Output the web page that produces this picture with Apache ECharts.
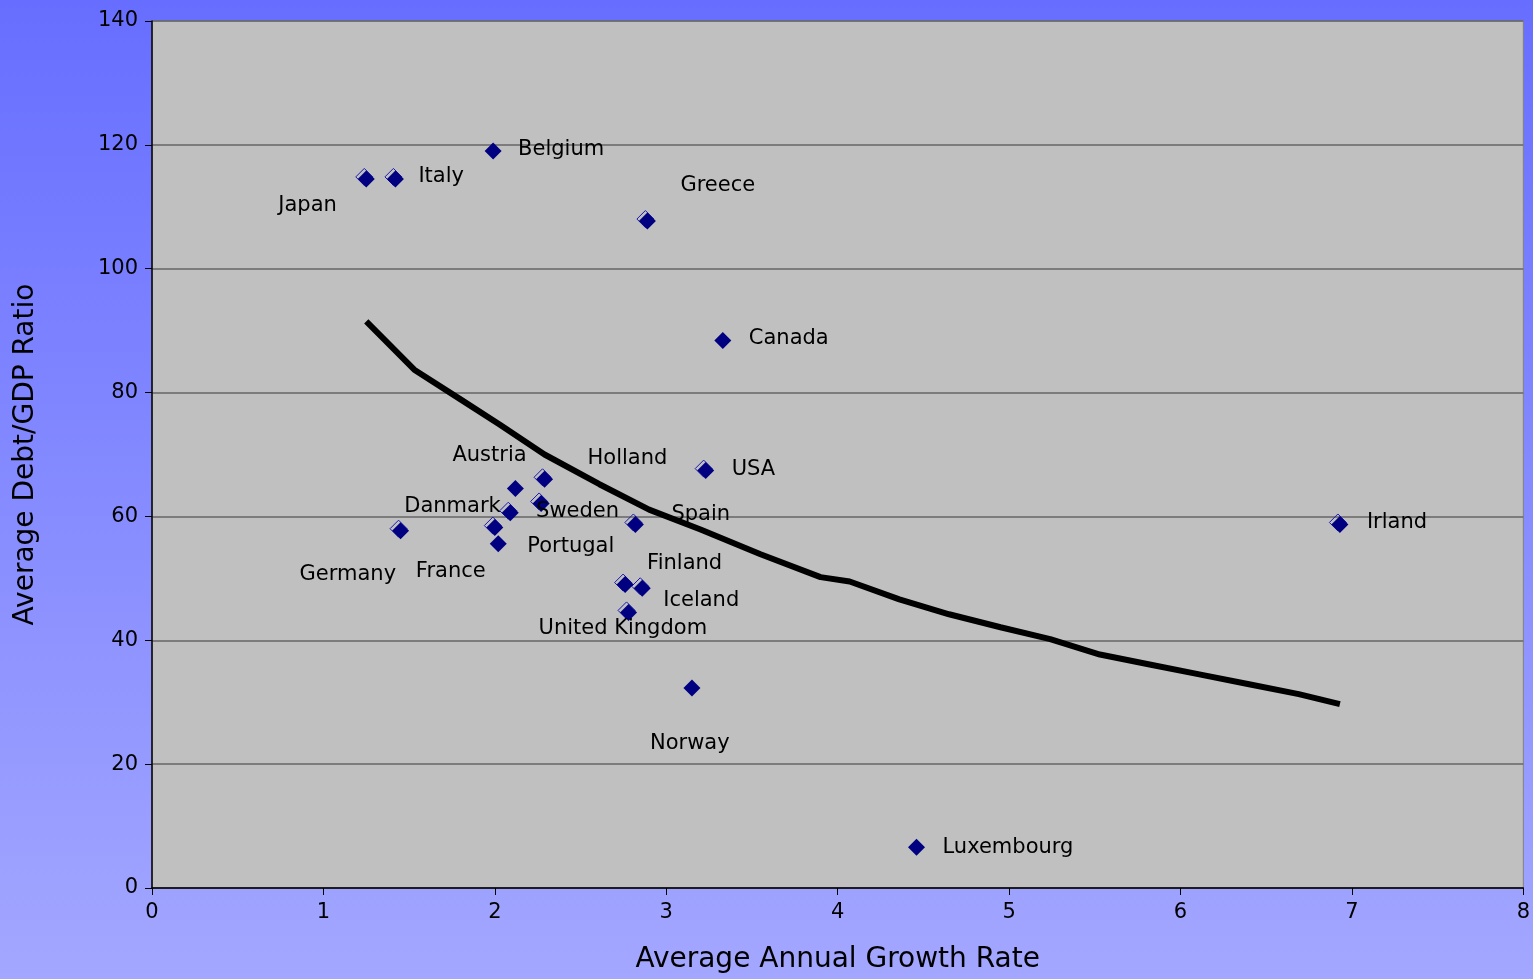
<!DOCTYPE html>
<html><head><meta charset="utf-8">
<script src="https://cdn.jsdelivr.net/npm/echarts@6/dist/echarts.min.js"></script>
<style>html,body{margin:0;padding:0;}#c{width:1533px;height:979px;}</style>
</head><body><div id="c"></div>
<script>
const countries = ["Japan","Italy","Belgium","Greece","Canada","USA","Irland","Luxembourg","Norway","Austria","Holland","Danmark","Sweden","Spain","Portugal","France","Germany","Finland","Iceland","United Kingdom"];
const growth = [1.25,1.42,1.99,2.89,3.33,3.23,6.93,4.46,3.15,2.12,2.29,2.09,2.27,2.82,2.02,2.00,1.45,2.76,2.86,2.78];
const debt = [114.5,114.5,119.0,107.7,88.4,67.4,58.7,6.6,32.3,64.5,66.0,60.6,62.1,58.7,55.6,58.2,57.7,49.0,48.4,44.5];
const hasOutline = [1,1,0,1,0,1,1,0,0,0,1,1,1,1,0,1,1,1,1,1];
const trendX = [1.25,1.53,1.80,2.03,2.29,2.61,2.90,3.20,3.55,3.90,4.07,4.36,4.65,4.95,5.24,5.53,5.82,6.11,6.40,6.69,6.93];
const trendY = [91.5,83.7,78.9,74.8,70.0,65.2,61.1,57.9,53.9,50.2,49.5,46.6,44.2,42.1,40.2,37.7,36.1,34.5,32.9,31.3,29.7];
const xTicks = [0,1,2,3,4,5,6,7,8];
const yTicks = [0,20,40,60,80,100,120,140];

// label placement (pixel offsets from the marker)
const labelOffsets = {
  "Japan":[-88,27],"Italy":[23,-2],"Belgium":[25,-2],"Greece":[33,-35],"Canada":[26,-2],
  "USA":[26,-1],"Irland":[27,-2],"Luxembourg":[26,0],"Norway":[-42,56],"Austria":[-63,-33],
  "Holland":[43,-21],"Danmark":[-106,-6],"Sweden":[-5,8],"Spain":[36,-10],"Portugal":[29,3],
  "France":[-79,44],"Germany":[-101,44],"Finland":[22,-21],"Iceland":[21,12],"United Kingdom":[-90,16]
};

const font = "'DejaVu Sans', sans-serif";
const chart = echarts.init(document.getElementById('c'));
const pts = countries.map((n,i)=>({value:[growth[i],debt[i]], name:n,
  label:{show:true, formatter:n, position:'inside', align:'left', verticalAlign:'middle',
    offset:labelOffsets[n], color:'#000', fontSize:21, fontFamily:font}}));
const outlinePts = countries.map((n,i)=>hasOutline[i]?[growth[i],debt[i]]:null).filter(v=>v);
chart.setOption({
  animation:false,
  backgroundColor:{type:'linear',x:0,y:0,x2:0,y2:1,colorStops:[{offset:0,color:'#676eff'},{offset:1,color:'#a3a7ff'}]},
  grid:{left:152,top:21,right:9,bottom:90,show:true,backgroundColor:'#c0c0c0',borderColor:'#808080',borderWidth:1},
  xAxis:{type:'value',min:0,max:8,interval:1,
    name:'Average Annual Growth Rate',nameLocation:'middle',nameGap:58,
    nameTextStyle:{fontSize:28,fontFamily:font,color:'#000'},
    axisLine:{show:true,onZero:false,lineStyle:{color:'#000',width:1.5}},
    axisTick:{show:true,length:7,lineStyle:{color:'#000'}},
    axisLabel:{fontSize:21,fontFamily:font,color:'#000',margin:14},
    splitLine:{show:false}},
  yAxis:{type:'value',min:0,max:140,interval:20,
    name:'Average Debt/GDP Ratio',nameLocation:'middle',nameGap:112,
    nameTextStyle:{fontSize:28,fontFamily:font,color:'#000'},
    axisLine:{show:true,onZero:false,lineStyle:{color:'#000',width:1.5}},
    axisTick:{show:true,length:7,lineStyle:{color:'#000'}},
    axisLabel:{fontSize:21,fontFamily:font,color:'#000',margin:14},
    splitLine:{show:true,lineStyle:{color:'#666',width:1.5}}},
  series:[
    {type:'line',data:trendX.map((x,i)=>[x,trendY[i]]),showSymbol:false,smooth:false,
     lineStyle:{color:'#000',width:6},z:2},
    {type:'scatter',data:outlinePts,symbol:'diamond',symbolSize:17,symbolOffset:[-2,-2],
     itemStyle:{color:'rgba(0,0,0,0)',borderColor:'#1a1ab0',borderWidth:1,opacity:1},z:3},
    {type:'scatter',data:pts,symbol:'diamond',symbolSize:17,
     itemStyle:{color:'#000080',opacity:1},z:4}
  ]
});
</script></body></html>
